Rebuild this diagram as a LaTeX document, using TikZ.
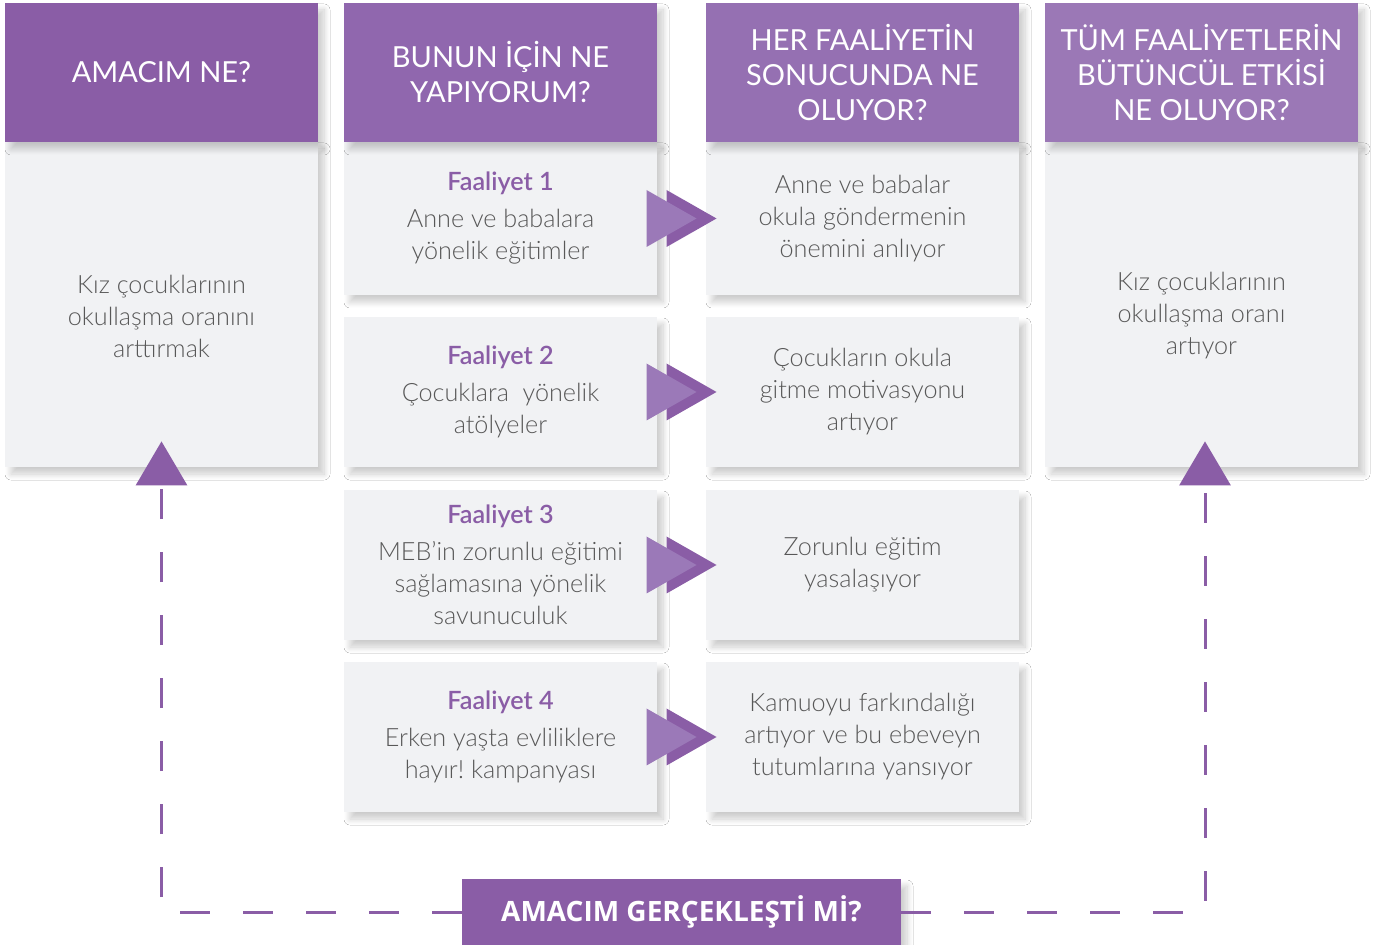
\documentclass[tikz,border=0pt]{standalone}
\usepackage{fontspec}
\setmainfont{Lato}
\newfontfamily\lightfont{Lato Light}
\newfontfamily\goalfont{Open Sans}
\usetikzlibrary{arrows.meta,shadows.blur}
\frenchspacing

\definecolor{purpA}{RGB}{138,93,166}
\definecolor{purpB}{RGB}{144,103,174}
\definecolor{purpC}{RGB}{149,112,178}
\definecolor{purpD}{RGB}{155,120,182}
\definecolor{chevlight}{RGB}{155,121,184}
\definecolor{boxgray}{RGB}{241,242,244}
\definecolor{txtgray}{RGB}{88,88,88}

\newcommand\faal[1]{{\bfseries\color{purpA}#1}}

\tikzset{
  softshadow/.style={blur shadow={shadow xshift=3pt,shadow yshift=-3.5pt,
      shadow blur radius=3pt,shadow blur steps=10,shadow opacity=20}},
  head/.style={fill=#1,text=white,minimum width=156.5pt,minimum height=69.5pt,
      inner sep=0pt,align=center,font=\fontsize{14.5}{17.5}\selectfont,softshadow},
  bodybox/.style={fill=boxgray,text=txtgray,minimum width=156.5pt,
      inner sep=0pt,align=center,font=\lightfont\fontsize{12.6}{16}\selectfont,softshadow},
  bodytext/.style={text=txtgray,align=center,inner sep=0pt,
      font=\lightfont\fontsize{12.6}{16}\selectfont},
  goalbox/.style={fill=purpA,text=white,minimum width=219.5pt,minimum height=33pt,
      inner sep=0pt,font=\goalfont\bfseries\fontsize{14}{16}\selectfont,softshadow},
  goalline/.style={purpA,line width=1.5pt,dash pattern=on 15pt off 16.5pt,
      -{Triangle[width=25.5pt,length=22pt]}},
}

\begin{document}
\begin{tikzpicture}[x=0.5pt,y=-0.5pt]
  \path[use as bounding box,fill=white] (0,0) rectangle (1376,945);

  %%%%%%%%%%%%%%%%%%%%%%%%%%%%%%%%%%%%%%%%%%%%%%%%%%%%%%%%%%%%%%%%%%%%%%%%%%%
  %%%%  gray boxes
  \node[bodybox,minimum height=162.5pt] (aim) at (161.5,304.5) {};
  \node[bodybox,minimum height=162.5pt] (impact) at (1201.5,304.5) {};

  \node[bodybox,minimum height=76.5pt] (act1) at (500.5,218.5)
    {\faal{Faaliyet 1}\\[2.5pt]Anne ve babalara\\yönelik eğitimler};
  \node[bodybox,minimum height=75pt] (act2) at (500.5,392)
    {\faal{Faaliyet 2}\\[2.5pt]Çocuklara~ yönelik\\atölyeler};
  \node[bodybox,minimum height=75pt] (act3) at (500.5,565)
    {\faal{Faaliyet 3}\\[2.5pt]MEB’in zorunlu eğitimi\\sağlamasına yönelik\\savunuculuk};
  \node[bodybox,minimum height=75pt] (act4) at (500.5,737)
    {\faal{Faaliyet 4}\\[2.5pt]Erken yaşta evliliklere\\hayır! kampanyası};

  \node[bodybox,minimum height=76.5pt] (res1) at (862.5,218.5)
    {Anne ve babalar\\okula göndermenin\\önemini anlıyor};
  \node[bodybox,minimum height=75pt] (res2) at (862.5,392)
    {Çocukların okula\\gitme motivasyonu\\artıyor};
  \node[bodybox,minimum height=75pt] (res3) at (862.5,565)
    {Zorunlu eğitim\\yasalaşıyor};
  \node[bodybox,minimum height=75pt] (res4) at (862.5,737)
    {Kamuoyu farkındalığı\\artıyor ve bu ebeveyn\\tutumlarına yansıyor};

  \node[bodytext] (aimtxt) at (161.5,316)
    {Kız çocuklarının\\okullaşma oranını\\arttırmak};
  \node[bodytext] (impacttxt) at (1201.5,316)
    {Kız çocuklarının\\okullaşma oranı\\artıyor};

  %%%%%%%%%%%%%%%%%%%%%%%%%%%%%%%%%%%%%%%%%%%%%%%%%%%%%%%%%%%%%%%%%%%%%%%%%%%
  %%%%  headers
  \node[head=purpA] (h1) at (161.5,72.5) {AMACIM NE?};
  \node[head=purpB] (h2) at (500.5,72.5) {BUNUN İÇİN NE\\YAPIYORUM?};
  \node[head=purpC] (h3) at (862.5,72.5) {HER FAALİYETİN\\SONUCUNDA NE\\OLUYOR?};
  \node[head=purpD] (h4) at (1201.5,72.5) {TÜM FAALİYETLERİN\\BÜTÜNCÜL ETKİSİ\\NE OLUYOR?};

  %%%%%%%%%%%%%%%%%%%%%%%%%%%%%%%%%%%%%%%%%%%%%%%%%%%%%%%%%%%%%%%%%%%%%%%%%%%
  %%%%  double chevrons
  \foreach \r in {1,...,4}
  {\path (act\r.east) -- (res\r.west) coordinate[midway] (mid\r);
   \fill[purpA] ([xshift=-7.5pt]mid\r) ++(0pt,14.25pt)
     -- ++(25pt,-14.25pt) -- ++(-25pt,-14.25pt) -- cycle;
   \fill[chevlight] ([xshift=-17.5pt]mid\r) ++(0pt,14.25pt)
     -- ++(25pt,-14.25pt) -- ++(-25pt,-14.25pt) -- cycle;
  };

  %%%%%%%%%%%%%%%%%%%%%%%%%%%%%%%%%%%%%%%%%%%%%%%%%%%%%%%%%%%%%%%%%%%%%%%%%%%
  %%%%  bottom question and feedback lines
  \node[goalbox] (goal) at (681.5,912) {AMACIM GERÇEKLEŞTİ Mİ?};

  \draw[goalline] (goal.west) -| ([yshift=13pt]aim.south);
  \draw[goalline] (goal.east) -| ([xshift=1.75pt,yshift=13pt]impact.south);
\end{tikzpicture}
\end{document}
